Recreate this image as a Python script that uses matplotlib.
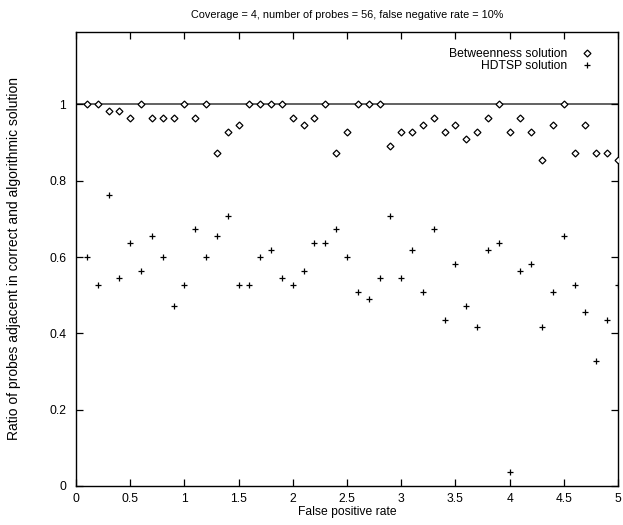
import matplotlib
matplotlib.use("Agg")
import matplotlib.pyplot as plt
import numpy as np

plt.rcParams['font.family'] = ['Liberation Sans', 'DejaVu Sans']

fp_rate = [0.1, 0.2, 0.3, 0.4, 0.5, 0.6, 0.7, 0.8, 0.9, 1.0,
           1.1, 1.2, 1.3, 1.4, 1.5, 1.6, 1.7, 1.8, 1.9, 2.0,
           2.1, 2.2, 2.3, 2.4, 2.5, 2.6, 2.7, 2.8, 2.9, 3.0,
           3.1, 3.2, 3.3, 3.4, 3.5, 3.6, 3.7, 3.8, 3.9, 4.0,
           4.1, 4.2, 4.3, 4.4, 4.5, 4.6, 4.7, 4.8, 4.9, 5.0]

betweenness = [1.0, 1.0, 0.982, 0.982, 0.964, 1.0, 0.964, 0.964, 0.964, 1.0,
               0.964, 1.0, 0.873, 0.927, 0.945, 1.0, 1.0, 1.0, 1.0, 0.964,
               0.945, 0.964, 1.0, 0.873, 0.927, 1.0, 1.0, 1.0, 0.891, 0.927,
               0.927, 0.945, 0.964, 0.927, 0.945, 0.909, 0.927, 0.964, 1.0, 0.927,
               0.964, 0.927, 0.855, 0.945, 1.0, 0.873, 0.945, 0.873, 0.873, 0.855]

hdtsp = [0.600, 0.527, 0.764, 0.545, 0.636, 0.564, 0.655, 0.600, 0.473, 0.527,
         0.673, 0.600, 0.655, 0.709, 0.527, 0.527, 0.600, 0.618, 0.545, 0.527,
         0.564, 0.636, 0.636, 0.673, 0.600, 0.509, 0.491, 0.545, 0.709, 0.545,
         0.618, 0.509, 0.673, 0.436, 0.582, 0.473, 0.418, 0.618, 0.636, 0.036,
         0.564, 0.582, 0.418, 0.509, 0.655, 0.527, 0.455, 0.327, 0.436, 0.527]

title = "Coverage = 4, number of probes = 56, false negative rate = 10%"
xlabel = "False positive rate"
ylabel = "Ratio of probes adjacent in correct and algorithmic solution"
labels = ["Betweenness solution", "HDTSP solution"]
xticks = [0, 0.5, 1, 1.5, 2, 2.5, 3, 3.5, 4, 4.5, 5]
xticklabels = ["0", "0.5", "1", "1.5", "2", "2.5", "3", "3.5", "4", "4.5", "5"]
yticks = [0, 0.2, 0.4, 0.6, 0.8, 1]
yticklabels = ["0", "0.2", "0.4", "0.6", "0.8", "1"]

fig = plt.figure(figsize=(6.23, 5.25), dpi=100)
ax = fig.add_axes([76/623, 39/525, 542/623, 454/525])

ax.axhline(1.0, color='#555555', lw=1.3, zorder=1)
ax.plot(fp_rate, betweenness, linestyle='none', marker='D', markersize=3.5,
        markerfacecolor='white', markeredgecolor='black', markeredgewidth=0.9,
        label=labels[0], zorder=3)
ax.plot(fp_rate, hdtsp, linestyle='none', marker='+', markersize=5,
        color='black', markeredgewidth=0.9, label=labels[1], zorder=3)

ax.set_xlim(0, 5)
ax.set_ylim(0, 1.19)
ax.set_xticks(xticks)
ax.set_xticklabels(xticklabels)
ax.set_yticks(yticks)
ax.set_yticklabels(yticklabels)
ax.tick_params(direction='in', top=True, right=True, length=5, width=0.9,
               labelsize=8.7)
ax.tick_params(axis='y', pad=7)
ax.tick_params(axis='x', pad=5)
for s in ax.spines.values():
    s.set_linewidth(1.0)

ax.set_title(title, fontsize=7.8, pad=10)
ax.set_xlabel(xlabel, fontsize=8.7, labelpad=1)
ax.set_ylabel(ylabel, fontsize=10, labelpad=20)

leg = ax.legend(loc='upper right', frameon=False, markerfirst=False,
                fontsize=8.7, handlelength=1.2, handletextpad=1.0,
                borderaxespad=0.0, labelspacing=0.0,
                bbox_to_anchor=(0.965, 0.975))

fig.savefig("out.png", dpi=100)
